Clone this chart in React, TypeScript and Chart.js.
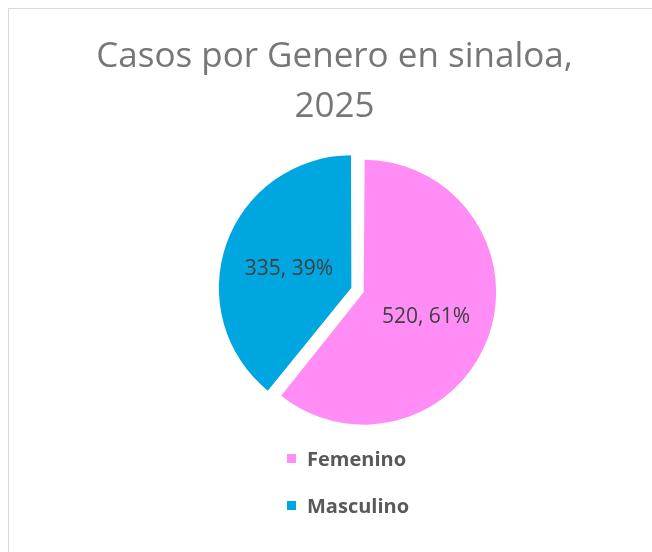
import React, { useEffect, useRef } from "react";
import { Chart, registerables } from "chart.js";

Chart.register(...registerables);

const CATEGORIES = ["Femenino", "Masculino"];
const VALUES = [520, 335];
const COLORS = ["#FF8DF5", "#00A6DF"];
const TITLE_LINES = ["Casos por Genero en sinaloa,", "2025"];

const OFFSET = 26; // Chart.js translates an arc by offset / 4
const RADIUS = 132.5;

const radiusFix = {
  id: "radiusFix",
  afterDatasetsUpdate(chart: any) {
    chart.getDatasetMeta(0).data.forEach((arc: any) => {
      const circ = arc.endAngle - arc.startAngle;
      const fix = 1 - Math.sin(Math.min(Math.PI, circ));
      arc.outerRadius = RADIUS - (OFFSET / 4) * fix;
    });
  },
};

const dataLabels = {
  id: "dataLabels",
  afterDatasetsDraw(chart: any) {
    const ctx = chart.ctx;
    const meta = chart.getDatasetMeta(0);
    const values = chart.data.datasets[0].data as number[];
    const total = values.reduce((a, b) => a + b, 0);
    ctx.save();
    ctx.font = "400 21px 'Open Sans'";
    ctx.fillStyle = "#404040";
    ctx.textAlign = "center";
    ctx.textBaseline = "middle";
    meta.data.forEach((arc: any, i: number) => {
      const mid = (arc.startAngle + arc.endAngle) / 2;
      const d = OFFSET / 4 + RADIUS * 0.5;
      const x = arc.x + Math.cos(mid) * d;
      const y = arc.y + Math.sin(mid) * d + 3;
      const v = values[i];
      ctx.fillText(`${v}, ${Math.round((v / total) * 100)}%`, x, y);
    });
    ctx.restore();
  },
};

const titlePlugin = {
  id: "customTitle",
  afterDraw(chart: any) {
    const ctx = chart.ctx;
    ctx.save();
    ctx.font = "400 35px 'Open Sans'";
    ctx.fillStyle = "#767676";
    ctx.textAlign = "center";
    ctx.textBaseline = "alphabetic";
    const cx = 325.5;
    const baselines = [58, 108];
    TITLE_LINES.forEach((t, i) => ctx.fillText(t, cx, baselines[i]));
    ctx.restore();
  },
};

const legendPlugin = {
  id: "customLegend",
  afterDraw(chart: any) {
    const ctx = chart.ctx;
    const labels = chart.data.labels as string[];
    const colors = chart.data.datasets[0].backgroundColor as string[];
    ctx.save();
    ctx.font = "700 20px 'Open Sans'";
    ctx.textAlign = "left";
    ctx.textBaseline = "alphabetic";
    const boxX = 278;
    const textX = 298;
    const baselines = [457, 504];
    labels.forEach((l, i) => {
      ctx.fillStyle = colors[i];
      ctx.fillRect(boxX, baselines[i] - 12, 9, 9);
      ctx.fillStyle = "#595959";
      ctx.fillText(l, textX, baselines[i]);
    });
    ctx.restore();
  },
};

export default function App() {
  const ref = useRef<HTMLCanvasElement>(null);
  useEffect(() => {
    if (!ref.current) return;
    const chart = new Chart(ref.current, {
      type: "pie",
      data: {
        labels: CATEGORIES,
        datasets: [
          {
            data: VALUES,
            backgroundColor: COLORS,
            borderWidth: 0,
            offset: OFFSET,
            hoverOffset: 0,
          },
        ],
      },
      options: {
        responsive: false,
        animation: false,
        devicePixelRatio: 1,
        radius: RADIUS,
        layout: { padding: { left: 60, right: 6, top: 141, bottom: 122 } },
        plugins: {
          legend: { display: false },
          title: { display: false },
          tooltip: { enabled: false },
        },
      } as any,
      plugins: [radiusFix, dataLabels, titlePlugin, legendPlugin],
    });
    return () => chart.destroy();
  }, []);
  return (
    <div
      style={{
        position: "fixed",
        left: 8,
        top: 8,
        width: 644,
        height: 544,
        borderTop: "1px solid #d9d9d9",
        borderLeft: "1px solid #d9d9d9",
        boxSizing: "border-box",
        background: "#fff",
        overflow: "hidden",
      }}
    >
      <canvas
        ref={ref}
        width={643}
        height={543}
        style={{ display: "block", width: 643, height: 543 }}
      />
    </div>
  );
}
